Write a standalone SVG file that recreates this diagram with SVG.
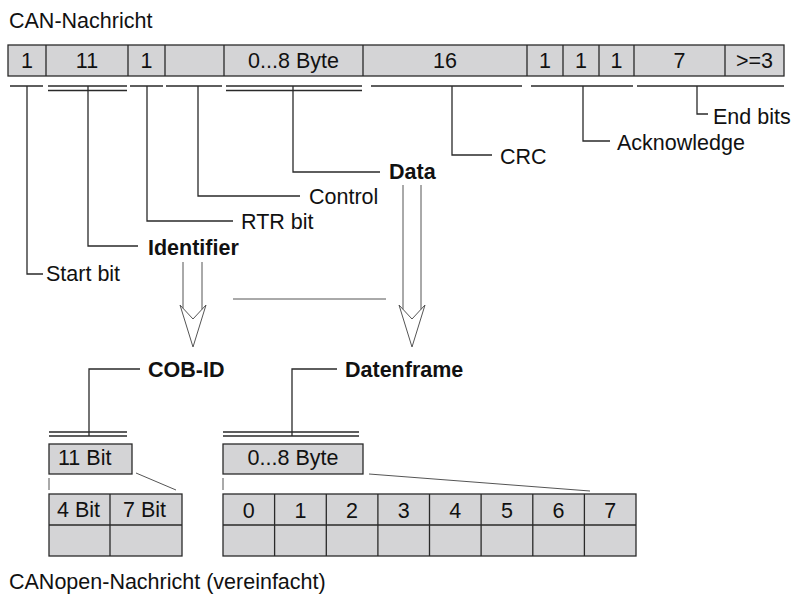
<svg xmlns="http://www.w3.org/2000/svg" width="792" height="595" viewBox="0 0 792 595">
  <style>
    text { font-family: "Liberation Sans", Arial, Helvetica, sans-serif; font-size: 21.5px; fill: #111; }
    .b { font-weight: bold; }
    .c { text-anchor: middle; }
    .cell { fill: #d4d4d6; stroke: #2a2a2a; stroke-width: 1.3; }
    .ln { fill: none; stroke: #2a2a2a; stroke-width: 1.3; }
    .thin { fill: none; stroke: #555; stroke-width: 1; }
    .arrow { fill: #fff; stroke: #555; stroke-width: 1; stroke-linejoin: miter; }
  </style>
  <rect width="792" height="595" fill="#fff"/>

  <!-- Titles -->
  <text x="9" y="28">CAN-Nachricht</text>
  <text x="9" y="589">CANopen-Nachricht (vereinfacht)</text>

  <!-- CAN frame fields -->
  <g id="can-frame">
    <rect class="cell" x="8" y="45" width="776" height="31"/>
    <path class="ln" d="M46 45V76M128 45V76M165 45V76M224 45V76M363 45V76M527 45V76M563 45V76M599 45V76M634 45V76M725 45V76"/>
    <text class="c" x="27" y="68">1</text>
    <text class="c" x="87" y="68">11</text>
    <text class="c" x="146.5" y="68">1</text>
    <text class="c" x="293.5" y="68">0...8 Byte</text>
    <text class="c" x="445" y="68">16</text>
    <text class="c" x="545" y="68">1</text>
    <text class="c" x="581" y="68">1</text>
    <text class="c" x="616.5" y="68">1</text>
    <text class="c" x="679.5" y="68">7</text>
    <text class="c" x="754.5" y="68">&gt;=3</text>
  </g>

  <!-- Field labels -->
  <g id="label-start"><text x="46" y="281">Start bit</text></g>
  <g id="label-identifier"><text class="b" x="148" y="255">Identifier</text></g>
  <g id="label-rtr"><text x="241" y="229">RTR bit</text></g>
  <g id="label-control"><text x="309" y="204">Control</text></g>
  <g id="label-data"><text class="b" x="389" y="179">Data</text></g>
  <g id="label-crc"><text x="500" y="164">CRC</text></g>
  <g id="label-ack"><text x="617" y="150">Acknowledge</text></g>
  <g id="label-end"><text x="713" y="124">End bits</text></g>

  <!-- CANopen message parts -->
  <g id="cob-id"><text class="b" x="148" y="377">COB-ID</text></g>
  <g id="datenframe"><text class="b" x="345" y="377">Datenframe</text></g>

  <g id="cob-id-box">
    <rect class="cell" x="49" y="444" width="83" height="30"/>
    <text x="58" y="465">11 Bit</text>
  </g>
  <g id="cob-id-split">
    <rect class="cell" x="49" y="494" width="133" height="62"/>
    <path class="ln" d="M110 494V556M49 525H182"/>
    <text x="57" y="517">4 Bit</text>
    <text x="123" y="517">7 Bit</text>
  </g>

  <g id="data-box">
    <rect class="cell" x="223" y="444" width="140" height="30"/>
    <text class="c" x="293" y="465">0...8 Byte</text>
  </g>
  <g id="data-bytes">
    <rect class="cell" x="223" y="494" width="413" height="62"/>
    <path class="ln" d="M274.6 494V556M326.3 494V556M377.9 494V556M429.5 494V556M481.1 494V556M532.8 494V556M584.4 494V556M223 525H636"/>
    <text class="c" x="248.8" y="518">0</text>
    <text class="c" x="300.4" y="518">1</text>
    <text class="c" x="352.1" y="518">2</text>
    <text class="c" x="403.7" y="518">3</text>
    <text class="c" x="455.3" y="518">4</text>
    <text class="c" x="506.9" y="518">5</text>
    <text class="c" x="558.6" y="518">6</text>
    <text class="c" x="610.2" y="518">7</text>
  </g>

  <!-- Connectors -->
  <g id="connectors">
    <!-- brackets under the frame fields -->
    <path class="ln" d="M10 86H43M48 86H127M48 90.5H127M130 86H163M166 86H222M226 86H362M226 90.5H362M371 86H522M531 86H633M637 86H784"/>
    <!-- leader lines to the labels -->
    <path class="ln" d="M27 86V274H43"/>
    <path class="ln" d="M88 86V246H138"/>
    <path class="ln" d="M147 86V221H233"/>
    <path class="ln" d="M198 86V196H300"/>
    <path class="ln" d="M293 86V172H380"/>
    <path class="ln" d="M452 86V155H492"/>
    <path class="ln" d="M583 86V141H610"/>
    <path class="ln" d="M697 86V114H708"/>

    <!-- hollow arrows -->
    <path class="arrow" d="M180 305L193 319L206 305L193 347Z"/>
    <path class="thin" d="M183 262V308.3M202 262V309.3"/>
    <path class="arrow" d="M399 305L412 319L425 305L412 347Z"/>
    <path class="thin" d="M403 185V309.3M421 185V309.3"/>
    <path class="thin" d="M233 299H386"/>

    <!-- leaders to the CANopen boxes -->
    <path class="ln" d="M140 369H89V436"/>
    <path class="ln" d="M49 432H127M49 436H127"/>
    <path class="ln" d="M337 369H292V436"/>
    <path class="ln" d="M223 432H359M223 436H359"/>

    <!-- expansion lines -->
    <path class="thin" d="M136 473L176 490M49 478V490"/>
    <path class="thin" d="M369 474L590 491M223 478V490"/>
  </g>
</svg>
